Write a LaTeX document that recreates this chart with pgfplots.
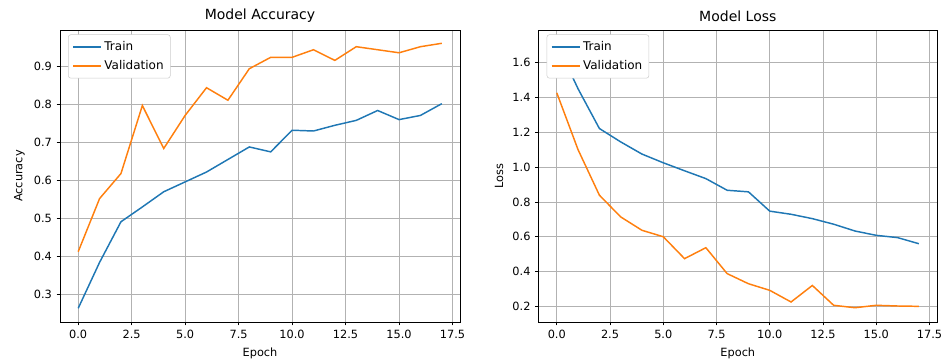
\documentclass[border=0pt]{standalone}
\usepackage{fontspec}
\setmainfont{DejaVu Sans}
\usepackage{pgfplots}
\pgfplotsset{compat=1.18}
\definecolor{tabblue}{HTML}{1F77B4}
\definecolor{taborange}{HTML}{FF7F0E}
\pgfplotsset{
  legend image code/.code={\draw[mark repeat=2,mark phase=2,#1] plot coordinates {(0pt,0pt) (10.5pt,0pt) (21pt,0pt)};},
  every axis legend/.append style={at={(0.02,0.985)}, anchor=north west, draw=black!20,
      rounded corners=2pt, fill=white, font=\fontsize{9}{10.5}\selectfont,
      inner xsep=3pt, inner ysep=3pt, row sep=2pt},
  legend cell align=left,
  mystyle/.style={
    scale only axis, width=300pt, height=219pt,
    xmin=-0.85, xmax=17.85,
    xtick={0,2.5,5,7.5,10,12.5,15,17.5},
    xticklabel style={/pgf/number format/.cd, fixed, fixed zerofill, precision=1},
    grid=major,
    major grid style={color=black!30, line width=0.6pt},
    axis line style={line width=0.6pt},
    tick style={black, line width=0.6pt},
    tick align=outside, xtick pos=bottom, ytick pos=left,
    major tick length=2.6pt,
    /pgf/number format/assume math mode=true,
    ticklabel style={font=\fontsize{8.5}{10}\selectfont},
    label style={font=\fontsize{8.5}{10}\selectfont},
    title style={font=\fontsize{10.5}{12}\selectfont, yshift=-3.5pt},
    xlabel={Epoch},
  }
}
\begin{document}
\begin{tikzpicture}
\useasboundingbox (0,0) rectangle (708pt,270.75pt);
\begin{axis}[mystyle, at={(45pt,29.25pt)}, anchor=south west,
  title={Model Accuracy}, ylabel={Accuracy},
  ymin=0.228, ymax=0.997,
  ytick={0.3,0.4,0.5,0.6,0.7,0.8,0.9},
  yticklabel style={/pgf/number format/.cd, fixed, precision=1}]
\addplot[tabblue, line width=1.1pt] coordinates {
(0,0.264) (1,0.385) (2,0.492) (3,0.531) (4,0.571) (5,0.597) (6,0.623) (7,0.656)
(8,0.689) (9,0.676) (10,0.733) (11,0.731) (12,0.746) (13,0.759) (14,0.785)
(15,0.761) (16,0.772) (17,0.803)};
\addlegendentry{Train}
\addplot[taborange, line width=1.1pt] coordinates {
(0,0.413) (1,0.553) (2,0.619) (3,0.798) (4,0.685) (5,0.772) (6,0.845) (7,0.812)
(8,0.895) (9,0.925) (10,0.925) (11,0.945) (12,0.917) (13,0.953) (14,0.945)
(15,0.937) (16,0.953) (17,0.962)};
\addlegendentry{Validation}
\end{axis}
\begin{axis}[mystyle, at={(404pt,29.25pt)}, anchor=south west, width=298.7pt,
  title={Model Loss}, ylabel={Loss},
  ymin=0.11, ymax=1.788,
  ytick={0.2,0.4,0.6,0.8,1.0,1.2,1.4,1.6},
  yticklabel style={/pgf/number format/.cd, fixed, fixed zerofill, precision=1}]
\addplot[tabblue, line width=1.1pt] coordinates {
(0,1.71) (1,1.45) (2,1.222) (3,1.145) (4,1.075) (5,1.025) (6,0.979) (7,0.934)
(8,0.867) (9,0.858) (10,0.747) (11,0.729) (12,0.704) (13,0.672) (14,0.633)
(15,0.608) (16,0.595) (17,0.56)};
\addlegendentry{Train}
\addplot[taborange, line width=1.1pt] coordinates {
(0,1.427) (1,1.10) (2,0.839) (3,0.714) (4,0.637) (5,0.60) (6,0.474) (7,0.537)
(8,0.388) (9,0.33) (10,0.292) (11,0.225) (12,0.32) (13,0.206) (14,0.192)
(15,0.206) (16,0.202) (17,0.20)};
\addlegendentry{Validation}
\end{axis}
\end{tikzpicture}
\end{document}
